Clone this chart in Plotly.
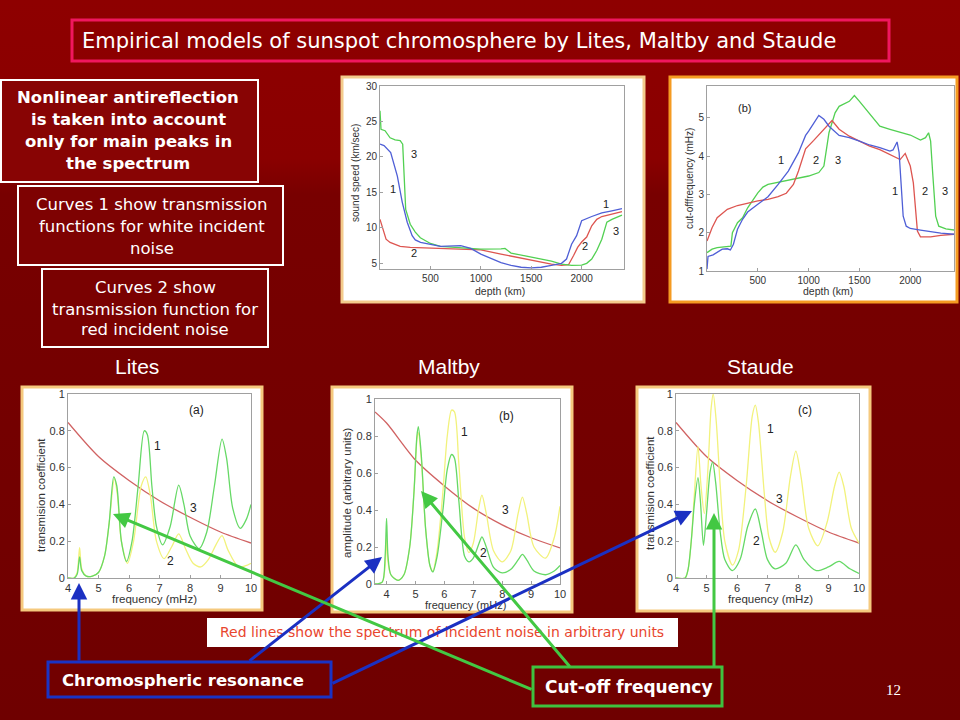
import base64
import plotly.graph_objects as go

W, H = 960, 720
def px(x): return x / W
def py(y): return 1 - y / H

# ---------------- data: sound speed vs depth (top left) ----------------
sp_depth1 = [0, 40, 106, 139, 172, 221, 270, 319, 350, 402, 500, 600, 800, 900, 1000, 1100, 1200, 1300,
             1400, 1500, 1600, 1700, 1800, 1850, 1900, 1950, 2000, 2100, 2200, 2300, 2400]
sp_val1 = [21.8, 21.6, 20.6, 19.0, 17.3, 13.6, 10.8, 8.9, 8.3, 7.95, 7.7, 7.4, 7.5, 7.1, 6.3, 5.7, 5.1, 4.7,
           4.45, 4.35, 4.45, 4.7, 5.0, 5.6, 7.7, 8.9, 11.0, 11.6, 12.1, 12.4, 12.7]
sp_depth2 = [0, 30, 60, 100, 200, 300, 500, 800, 1000, 1200, 1400, 1500, 1700, 1800, 1870, 1920, 1960,
             2000, 2050, 2100, 2150, 2200, 2300, 2400]
sp_val2 = [11.2, 9.6, 8.4, 7.95, 7.4, 7.25, 7.15, 7.1, 6.9, 6.3, 5.7, 5.5, 4.9, 4.7, 4.8, 6.1, 7.25,
           8.0, 8.7, 10.3, 11.2, 11.6, 11.9, 12.3]
sp_depth3 = [0, 10, 50, 100, 150, 200, 225, 240, 255, 300, 350, 400, 500, 600, 800, 1000, 1200, 1240,
             1300, 1500, 1700, 1800, 1900, 2000, 2050, 2100, 2150, 2200, 2250, 2300, 2400]
sp_val3 = [26.5, 23.9, 23.7, 22.7, 22.4, 22.3, 21.8, 17.3, 12.6, 10.5, 9.4, 8.6, 7.8, 7.4, 7.25, 7.0, 7.05, 7.1,
           6.45, 5.9, 5.3, 4.9, 4.7, 4.75, 5.0, 5.6, 6.8, 8.4, 10.8, 11.2, 11.8]

# ---------------- data: cut-off frequency vs depth (top right) ----------------
cf_depth1 = [0, 10, 60, 150, 200, 230, 260, 300, 350, 400, 500, 600, 700, 800, 900, 970, 1000, 1100, 1150,
             1200, 1300, 1400, 1500, 1600, 1700, 1800, 1830, 1870, 1890, 1910, 1930, 1960, 2000, 2100,
             2200, 2300, 2430]
cf_val1 = [1.05, 1.38, 1.42, 1.57, 1.58, 1.55, 1.70, 2.09, 2.35, 2.54, 2.74, 2.94, 3.26, 3.61, 4.09, 4.54,
           4.65, 5.06, 4.96, 4.78, 4.54, 4.48, 4.39, 4.29, 4.22, 4.13, 4.16, 4.37, 4.09, 3.22, 2.43, 2.17,
           2.11, 2.07, 2.03, 1.99, 1.96]
cf_depth2 = [0, 50, 100, 200, 300, 400, 500, 600, 700, 780, 850, 900, 970, 1050, 1150, 1230, 1300, 1400,
             1500, 1600, 1700, 1800, 1900, 1950, 2000, 2030, 2050, 2070, 2100, 2200, 2300, 2430]
cf_val2 = [1.78, 2.13, 2.39, 2.61, 2.71, 2.78, 2.83, 2.87, 2.94, 3.03, 3.26, 3.61, 4.19, 4.41, 4.71, 4.93,
           4.70, 4.52, 4.39, 4.26, 4.17, 4.04, 3.91, 4.07, 3.74, 3.30, 2.61, 2.04, 1.89, 1.89, 1.93, 1.96]
cf_depth3 = [0, 50, 100, 200, 235, 250, 300, 350, 400, 500, 550, 600, 800, 900, 1000, 1100, 1150, 1180,
             1200, 1260, 1300, 1400, 1450, 1500, 1600, 1700, 1800, 1900, 2000, 2100, 2150, 2180, 2200,
             2220, 2250, 2280, 2350, 2430]
cf_val3 = [1.48, 1.57, 1.61, 1.63, 1.65, 2.0, 2.26, 2.39, 2.65, 3.04, 3.19, 3.26, 3.37, 3.43, 3.48, 3.57,
           3.74, 4.26, 4.61, 5.13, 5.30, 5.43, 5.58, 5.43, 5.09, 4.78, 4.70, 4.63, 4.55, 4.42, 4.48, 4.61,
           4.39, 3.57, 2.43, 2.17, 2.10, 2.07]

# ---------------- data: incident noise spectrum (red lines) ----------------
noise_f = [4, 5, 6, 7, 8, 9, 10]
noise_lites = [0.845, 0.66, 0.53, 0.42, 0.33, 0.25, 0.19]
noise_maltby_f = [3.6, 4, 5, 6, 7, 8, 9, 10]
noise_maltby = [0.93, 0.87, 0.67, 0.53, 0.41, 0.32, 0.25, 0.195]
noise_staude = [0.845, 0.66, 0.53, 0.42, 0.33, 0.25, 0.19]

# ---------------- data: Lites transmission ----------------
lites_f1 = [4.0, 4.2, 4.3, 4.38, 4.45, 4.6, 4.8, 5.0, 5.2, 5.35, 5.5, 5.6, 5.75, 5.92, 6.1, 6.3, 6.5, 6.6,
            6.75, 6.9, 7.1, 7.35, 7.63, 7.8, 8.0, 8.3, 8.55, 8.8, 9.05, 9.2, 9.4, 9.65, 9.85, 10.0]
lites_t1 = [0.0, 0.0, 0.02, 0.115, 0.04, 0.01, 0.01, 0.03, 0.12, 0.3, 0.55, 0.5, 0.2, 0.09, 0.2, 0.5, 0.8, 0.78,
            0.5, 0.28, 0.18, 0.28, 0.505, 0.4, 0.23, 0.16, 0.25, 0.5, 0.755, 0.65, 0.38, 0.27, 0.32, 0.40]
lites_f2 = [4.0, 4.2, 4.3, 4.38, 4.45, 4.6, 4.8, 5.0, 5.2, 5.35, 5.52, 5.62, 5.75, 5.95, 6.15, 6.4, 6.55,
            6.7, 6.9, 7.15, 7.4, 7.63, 7.85, 8.1, 8.35, 8.6, 8.85, 9.05, 9.25, 9.6, 10.0]
lites_t2 = [0.0, 0.0, 0.03, 0.165, 0.05, 0.01, 0.01, 0.03, 0.12, 0.3, 0.54, 0.45, 0.2, 0.08, 0.2, 0.5, 0.55,
            0.45, 0.2, 0.105, 0.17, 0.24, 0.16, 0.08, 0.06, 0.1, 0.18, 0.23, 0.15, 0.06, 0.08]

# ---------------- data: Maltby amplitude ----------------
maltby_f = [3.6, 3.85, 3.95, 4.0, 4.05, 4.15, 4.4, 4.6, 4.8, 4.95, 5.05, 5.1, 5.2, 5.35, 5.5, 5.6, 5.75,
            5.95, 6.1, 6.25, 6.35, 6.5, 6.7, 6.85, 7.0, 7.2, 7.3, 7.45, 7.7, 8.0, 8.3, 8.55, 8.7, 8.85, 9.1,
            9.5, 9.8, 10.0]
maltby_a1 = [0.0, 0.01, 0.1, 0.25, 0.12, 0.05, 0.02, 0.05, 0.2, 0.5, 0.78, 0.82, 0.68, 0.3, 0.1, 0.07, 0.18,
             0.5, 0.8, 0.94, 0.93, 0.65, 0.25, 0.17, 0.22, 0.42, 0.48, 0.38, 0.18, 0.12, 0.18, 0.38, 0.47,
             0.38, 0.2, 0.14, 0.25, 0.42]
maltby_a2 = [0.0, 0.01, 0.15, 0.355, 0.15, 0.05, 0.02, 0.05, 0.2, 0.5, 0.8, 0.85, 0.7, 0.3, 0.1, 0.065,
             0.15, 0.4, 0.62, 0.70, 0.68, 0.45, 0.15, 0.12, 0.14, 0.22, 0.255, 0.2, 0.09, 0.06, 0.08, 0.13,
             0.16, 0.13, 0.07, 0.05, 0.07, 0.1]

# ---------------- data: Staude transmission ----------------
staude_f1 = [4.0, 4.3, 4.4, 4.5, 4.6, 4.72, 4.82, 4.93, 5.05, 5.15, 5.22, 5.32, 5.45, 5.6, 5.85, 6.05, 6.3,
             6.5, 6.6, 6.7, 6.9, 7.05, 7.25, 7.5, 7.75, 7.93, 8.1, 8.35, 8.65, 8.95, 9.2, 9.35, 9.5, 9.75, 10.0]
staude_t1 = [0.0, 0.0, 0.05, 0.2, 0.45, 0.715, 0.5, 0.35, 0.6, 0.92, 1.0, 0.85, 0.5, 0.2, 0.07, 0.15, 0.5,
             0.88, 0.94, 0.85, 0.45, 0.22, 0.14, 0.25, 0.55, 0.69, 0.55, 0.27, 0.175, 0.3, 0.5, 0.575, 0.5,
             0.27, 0.19]
staude_f2 = [4.0, 4.3, 4.4, 4.5, 4.6, 4.72, 4.8, 4.9, 5.0, 5.12, 5.2, 5.3, 5.45, 5.6, 5.85, 6.1, 6.35, 6.6,
             6.8, 7.0, 7.25, 7.6, 7.93, 8.2, 8.6, 9.0, 9.35, 9.7, 10.0]
staude_t2 = [0.0, 0.0, 0.05, 0.2, 0.4, 0.545, 0.42, 0.178, 0.35, 0.58, 0.63, 0.52, 0.25, 0.1, 0.04, 0.1,
             0.28, 0.375, 0.25, 0.1, 0.05, 0.08, 0.18, 0.1, 0.04, 0.06, 0.09, 0.05, 0.025]

depth_ticks = [500, 1000, 1500, 2000]
speed_ticks = [5, 10, 15, 20, 25, 30]
cutoff_ticks = [1, 2, 3, 4, 5]
freq_ticks = [4, 5, 6, 7, 8, 9, 10]
coef_ticks = [0, 0.2, 0.4, 0.6, 0.8, 1]

# ---------------- styles ----------------
BLUE_T, RED_T, GREEN_T = '#4F5FD6', '#DD5550', '#52D052'
YEL_B, GREEN_B, RED_B = '#F2F27C', '#66D966', '#D06262'
CHART_FONT = 'Liberation Sans'

fig = go.Figure()

def line(x, y, color, xa, ya, spline=False):
    fig.add_trace(go.Scatter(
        x=x, y=y, mode='lines', xaxis=xa, yaxis=ya, hoverinfo='skip', showlegend=False,
        line=dict(color=color, width=1.3, shape='spline' if spline else 'linear', smoothing=0.8)))

line(sp_depth2, sp_val2, RED_T, 'x', 'y')
line(sp_depth3, sp_val3, GREEN_T, 'x', 'y')
line(sp_depth1, sp_val1, BLUE_T, 'x', 'y')

line(cf_depth3, cf_val3, GREEN_T, 'x2', 'y2')
line(cf_depth2, cf_val2, RED_T, 'x2', 'y2')
line(cf_depth1, cf_val1, BLUE_T, 'x2', 'y2')

line(noise_f, noise_lites, RED_B, 'x3', 'y3', True)
line(lites_f2, lites_t2, YEL_B, 'x3', 'y3', True)
line(lites_f1, lites_t1, GREEN_B, 'x3', 'y3', True)

line(noise_maltby_f, noise_maltby, RED_B, 'x4', 'y4', True)
line(maltby_f, maltby_a1, YEL_B, 'x4', 'y4', True)
line(maltby_f, maltby_a2, GREEN_B, 'x4', 'y4', True)

line(noise_f, noise_staude, RED_B, 'x5', 'y5', True)
line(staude_f1, staude_t1, YEL_B, 'x5', 'y5', True)
line(staude_f2, staude_t2, GREEN_B, 'x5', 'y5', True)

def ax(domain, rng, tickvals, anchor, size):
    return dict(domain=domain, range=rng, tickvals=tickvals, anchor=anchor, showline=True, mirror=True,
                linecolor='#a0a0a0', linewidth=1, showgrid=False, zeroline=False, ticks='inside',
                ticklen=3, tickcolor='#a0a0a0', automargin=False, fixedrange=True,
                tickfont=dict(family=CHART_FONT, size=size, color='#333333'))

# background gradient (slide): lighter top band, darker lower part, soft glow at left
svg = ('<svg xmlns="http://www.w3.org/2000/svg" width="960" height="720">'
       '<defs><linearGradient id="g" x1="0" y1="0" x2="0" y2="1">'
       '<stop offset="0" stop-color="#8E0000"/><stop offset="0.22" stop-color="#8A0000"/>'
       '<stop offset="0.27" stop-color="#780000"/><stop offset="1" stop-color="#6F0000"/></linearGradient>'
       '<radialGradient id="r" cx="0" cy="0.5" r="0.5">'
       '<stop offset="0" stop-color="#A81A1A" stop-opacity="0.7"/>'
       '<stop offset="1" stop-color="#A81A1A" stop-opacity="0"/></radialGradient></defs>'
       '<rect width="960" height="720" fill="url(#g)"/>'
       '<ellipse cx="0" cy="185" rx="330" ry="45" fill="url(#r)"/></svg>')
bg_src = 'data:image/svg+xml;base64,' + base64.b64encode(svg.encode()).decode()

shapes = []
def rect(x0, y0, x1, y1, line_color, lw, fill, layer='below'):
    shapes.append(dict(type='rect', xref='paper', yref='paper', x0=px(x0), x1=px(x1), y0=py(y1), y1=py(y0),
                       line=dict(color=line_color, width=lw), fillcolor=fill, layer=layer))

# title box and text boxes
rect(72, 20, 889, 61, '#F0175E', 3, 'rgba(0,0,0,0)')
rect(1, 80, 258, 182, '#FFFFFF', 2, '#880404')
rect(18, 186, 283, 265, '#FFFFFF', 2, '#7E0202')
rect(42, 269, 268, 347, '#FFFFFF', 2, '#7A0101')
# chart frames
rect(342, 77, 644, 302, '#F3CB8C', 3, '#FFFFFF')
rect(670, 77, 957, 302, '#F59B22', 3, '#FFFFFF')
rect(22, 387, 262, 610, '#F5C97E', 3, '#FFFFFF')
rect(332, 387, 572, 612, '#F5C97E', 3, '#FFFFFF')
rect(637, 387, 870, 611, '#F5C97E', 3, '#FFFFFF')
# bottom boxes
rect(207, 618, 678, 647, 'rgba(0,0,0,0)', 0, '#FFFFFF')
rect(48, 662, 331, 697, '#1A33C4', 3, '#720000')
rect(533, 667, 722, 706, '#3FC13F', 3, '#700000')

ann = []
def text(x, y, t, size, color='white', family='DejaVu Sans', xanchor='center', bold=False, angle=0):
    ann.append(dict(x=px(x), y=py(y), xref='paper', yref='paper', text=('<b>%s</b>' % t) if bold else t,
                    showarrow=False, xanchor=xanchor, yanchor='middle', textangle=angle,
                    font=dict(family=family, size=size, color=color)))

text(80, 41, 'Empirical models of sunspot chromosphere by Lites, Maltby and Staude', 21, xanchor='left')
for t, y in zip(['Nonlinear antireflection', 'is taken into account', 'only for main peaks in', 'the spectrum'],
                [98, 120, 142, 164]):
    text(128, y, t, 16.5, bold=True)
for t, y in zip(['Curves 1 show transmission', 'functions for white incident', 'noise'], [204, 226, 248]):
    text(152, y, t, 16.5)
for t, y in zip(['Curves 2 show', 'transmission function for', 'red incident noise'], [287, 309, 330]):
    text(155, y, t, 16.5)
text(137, 366, 'Lites', 21, family='Liberation Sans')
text(449, 366, 'Maltby', 21, family='Liberation Sans')
text(760, 366, 'Staude', 21, family='Liberation Sans')
text(442, 632, 'Red lines show the spectrum of incident noise in arbitrary units', 14, color='#E8462E')
text(60, 680, 'Chromospheric resonance', 16.5, bold=True, xanchor='left')
text(543, 687, 'Cut-off frequency', 17, bold=True, xanchor='left')
text(893, 690, '12', 15, family='Liberation Serif')

# axis titles
CF = CHART_FONT
text(355, 173, 'sound speed (km/sec)', 10, '#333333', CF, angle=-90)
text(500, 291, 'depth (km)', 10.5, '#333333', CF)
text(689, 179, 'cut-offfrequency (mHz)', 10, '#333333', CF, angle=-90)
text(828, 291, 'depth (km)', 10.5, '#333333', CF)
text(41, 495, 'transmision coefficient', 11.5, '#333333', CF, angle=-90)
text(154, 599, 'frequency (mHz)', 11.5, '#333333', CF)
text(347, 493, 'amplitude (arbitrary units)', 11.5, '#333333', CF, angle=-90)
text(465, 605, 'frequency (mHz)', 11, '#333333', CF)
text(650, 493, 'transmision coefficient', 11.5, '#333333', CF, angle=-90)
text(770, 599, 'frequency (mHz)', 11.5, '#333333', CF)

# curve labels in data coordinates
def lab(x, y, t, xr, yr, size=11):
    ann.append(dict(x=x, y=y, xref=xr, yref=yr, text=t, showarrow=False,
                    font=dict(family=CF, size=size, color='#222222')))

lab(132, 15.5, '1', 'x', 'y'); lab(336, 20.4, '3', 'x', 'y'); lab(336, 6.5, '2', 'x', 'y')
lab(2240, 13.4, '1', 'x', 'y'); lab(2036, 7.5, '2', 'x', 'y'); lab(2339, 9.6, '3', 'x', 'y')
lab(369, 5.26, '(b)', 'x2', 'y2'); lab(730, 3.89, '1', 'x2', 'y2'); lab(1068, 3.89, '2', 'x2', 'y2')
lab(1288, 3.89, '3', 'x2', 'y2'); lab(1846, 3.09, '1', 'x2', 'y2'); lab(2141, 3.09, '2', 'x2', 'y2')
lab(2344, 3.09, '3', 'x2', 'y2')
lab(8.2, 0.915, '(a)', 'x3', 'y3', 12); lab(6.94, 0.72, '1', 'x3', 'y3', 12)
lab(8.1, 0.38, '3', 'x3', 'y3', 12); lab(7.36, 0.09, '2', 'x3', 'y3', 12)
lab(8.15, 0.91, '(b)', 'x4', 'y4', 12); lab(6.69, 0.82, '1', 'x4', 'y4', 12)
lab(8.1, 0.4, '3', 'x4', 'y4', 12); lab(7.35, 0.17, '2', 'x4', 'y4', 12)
lab(8.23, 0.915, '(c)', 'x5', 'y5', 12); lab(7.09, 0.81, '1', 'x5', 'y5', 12)
lab(7.39, 0.43, '3', 'x5', 'y5', 12); lab(6.65, 0.2, '2', 'x5', 'y5', 12)

# arrows (head, tail) in pixels
def arrow(hx, hy, tx, ty, color):
    ann.append(dict(x=px(hx), y=py(hy), xref='paper', yref='paper', ax=tx - hx, ay=ty - hy,
                    axref='pixel', ayref='pixel', text='', showarrow=True, arrowhead=2, arrowsize=1.1,
                    arrowwidth=3, arrowcolor=color))

BL, GR = '#1B30C2', '#43C843'
arrow(79, 583, 79, 662, BL)
arrow(382, 557, 248, 662, BL)
arrow(692, 511, 331, 684, BL)
arrow(113, 514, 533, 690, GR)
arrow(421, 491, 571, 668, GR)
arrow(714, 513, 714, 668, GR)

fig.update_layout(
    width=W, height=H, margin=dict(l=0, r=0, t=0, b=0), template='none',
    paper_bgcolor='#780000', plot_bgcolor='#FFFFFF', showlegend=False,
    images=[dict(source=bg_src, xref='paper', yref='paper', x=0, y=1, sizex=1, sizey=1,
                 xanchor='left', yanchor='top', sizing='stretch', layer='below')],
    shapes=shapes, annotations=ann,
    xaxis=ax([px(380), px(624)], [0, 2420], depth_ticks, 'y', 10),
    yaxis=ax([py(269), py(86)], [4.2, 30], speed_ticks, 'x', 10),
    xaxis2=ax([px(707), px(954)], [0, 2430], depth_ticks, 'y2', 10),
    yaxis2=ax([py(271), py(86)], [1, 5.83], cutoff_ticks, 'x2', 10),
    xaxis3=ax([px(68), px(251)], [4, 10], freq_ticks, 'y3', 11),
    yaxis3=ax([py(578), py(394)], [0, 1], coef_ticks, 'x3', 11),
    xaxis4=ax([px(375), px(560)], [3.6, 10], freq_ticks, 'y4', 11),
    yaxis4=ax([py(584), py(399)], [0, 1], coef_ticks, 'x4', 11),
    xaxis5=ax([px(676), px(859)], [4, 10], freq_ticks, 'y5', 11),
    yaxis5=ax([py(578), py(394)], [0, 1], coef_ticks, 'x5', 11),
)

fig.write_html('out.html', config={'displayModeBar': False},
               post_script="document.body.style.margin='0';document.body.style.overflow='hidden';")
